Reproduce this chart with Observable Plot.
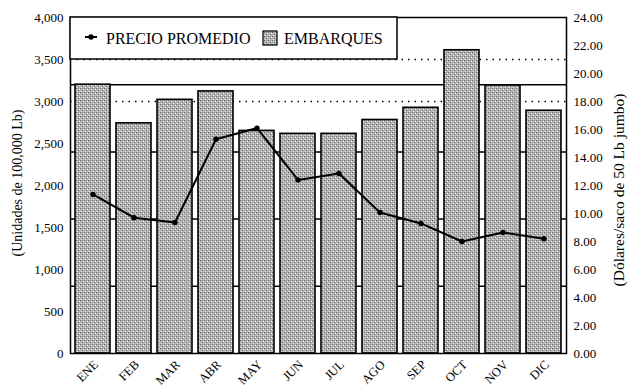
<!DOCTYPE html>
<html><head><meta charset="utf-8">
<script src="https://cdn.jsdelivr.net/npm/d3@7"></script>
<script src="https://cdn.jsdelivr.net/npm/@observablehq/plot@0.6"></script>
<style>
body{margin:0;background:#fff;}
#chart{position:relative;width:632px;height:387px;}
.mlab{position:absolute;font-family:'Liberation Serif','Times New Roman',serif;font-size:12.5px;color:#000;white-space:nowrap;transform-origin:100% 0;line-height:1;}
</style></head><body><div id="chart"></div>
<script>
const months = ["ENE","FEB","MAR","ABR","MAY","JUN","JUL","AGO","SEP","OCT","NOV","DIC"];
const embarques = [3200, 2740, 3020, 3120, 2650, 2615, 2615, 2780, 2925, 3610, 3190, 2890];
const precio = [11.36, 9.7, 9.36, 15.3, 16.1, 12.4, 12.86, 10.07, 9.29, 8.0, 8.64, 8.2];
const leftTicks = [0, 500, 1000, 1500, 2000, 2500, 3000, 3500, 4000];
const rightTicks = [0, 2, 4, 6, 8, 10, 12, 14, 16, 18, 20, 22, 24];
const solidGrid = [800, 1600, 2400, 3200];
const dottedGrid = [3000, 3500];
const leftTitle = "(Unidades de 100,000 Lb)";
const rightTitle = "(Dólares/saco de 50 Lb jumbo)";
const legendLine = "PRECIO PROMEDIO";
const legendBar = "EMBARQUES";

const k = 4000 / 24;
const data = months.map((m, i) => ({month: m, emb: embarques[i], precio: precio[i]}));
const font = "'Liberation Serif', 'Times New Roman', serif";

const plot = Plot.plot({
  width: 632, height: 387,
  marginLeft: 70, marginRight: 66, marginTop: 17, marginBottom: 34,
  style: {fontFamily: font, fontSize: "13px", background: "#fff", color: "#000"},
  x: {domain: months, paddingInner: 0.15, paddingOuter: 0.05, axis: null, label: null},
  y: {domain: [0, 4000], label: null},
  marks: [
    Plot.ruleY(solidGrid, {stroke: "#000", strokeWidth: 1.5}),
    Plot.ruleY(dottedGrid, {stroke: "#000", strokeWidth: 1.3, strokeDasharray: "1.5,5"}),
    Plot.barY(data, {x: "month", y: "emb", fill: "url(#pat)", stroke: "#000", strokeWidth: 1.6}),
    Plot.lineY(data, {x: "month", y: d => d.precio * k, stroke: "#000", strokeWidth: 2}),
    Plot.dot(data, {x: "month", y: d => d.precio * k, r: 2.7, fill: "#000"}),
    Plot.axisY(leftTicks, {anchor: "left", tickSize: 0, tickPadding: 7, tickFormat: d3.format(","), fontSize: 13, label: null}),
    Plot.axisY(rightTicks.map(v => v * k), {anchor: "right", tickSize: 0, tickPadding: 7, tickFormat: d => (d / k).toFixed(2), fontSize: 13, label: null}),
    Plot.frame({stroke: "#000", strokeWidth: 1.5})
  ]
});

const svg = d3.select(plot);
const defs = svg.insert("defs", ":first-child");
const pat = defs.append("pattern").attr("id", "pat").attr("width", 4).attr("height", 4).attr("patternUnits", "userSpaceOnUse");
pat.append("rect").attr("width", 4).attr("height", 4).attr("fill", "#b4b4b4");
[[0,0,"#686868"],[2,2,"#686868"],[1,3,"#eeeeee"],[3,1,"#eeeeee"],[2,0,"#909090"]].forEach(([x,y,c]) =>
  pat.append("rect").attr("x", x).attr("y", y).attr("width", 1).attr("height", 1).attr("fill", c));

function addText(sel, attrs, size, txt) {
  const t = sel.append("text");
  Object.entries(attrs).forEach(([a, v]) => t.attr(a, v));
  t.style("font-family", font).style("font-size", size + "px").attr("fill", "#000").text(txt);
  return t;
}

// month labels, placed with Plot's x scale, rotated 45 degrees (matrix transform)
const xs = plot.scale("x");
const bw = xs.bandwidth;
const c45 = Math.SQRT1_2;
months.forEach(m => {
  const cx = xs.apply(m) + bw / 2;
  addText(svg, {transform: `matrix(${c45},${-c45},${c45},${c45},${cx},359)`, x: 0, y: 9, "text-anchor": "end"}, 12.5, m);
});

// axis titles
addText(svg, {transform: "translate(19,183) rotate(-90)", "text-anchor": "middle", "dominant-baseline": "middle"}, 14, leftTitle);
addText(svg, {transform: "translate(620,190) rotate(-90)", "text-anchor": "middle", "dominant-baseline": "middle"}, 15.5, rightTitle);

// legend
const lg = svg.append("g");
lg.append("rect").attr("x", 70).attr("y", 17).attr("width", 327).attr("height", 42)
  .attr("fill", "#fff").attr("stroke", "#000").attr("stroke-width", 1.5);
lg.append("line").attr("x1", 85).attr("x2", 97).attr("y1", 37).attr("y2", 37).attr("stroke", "#000").attr("stroke-width", 2);
lg.append("circle").attr("cx", 91).attr("cy", 37).attr("r", 2.7).attr("fill", "#000");
addText(lg, {x: 106, y: 44, "text-anchor": "start"}, 16, legendLine);
lg.append("rect").attr("x", 263).attr("y", 31).attr("width", 14).attr("height", 14)
  .attr("fill", "url(#pat)").attr("stroke", "#000").attr("stroke-width", 1.2);
addText(lg, {x: 284, y: 44, "text-anchor": "start"}, 16, legendBar);

document.getElementById("chart").appendChild(plot);
</script></body></html>
